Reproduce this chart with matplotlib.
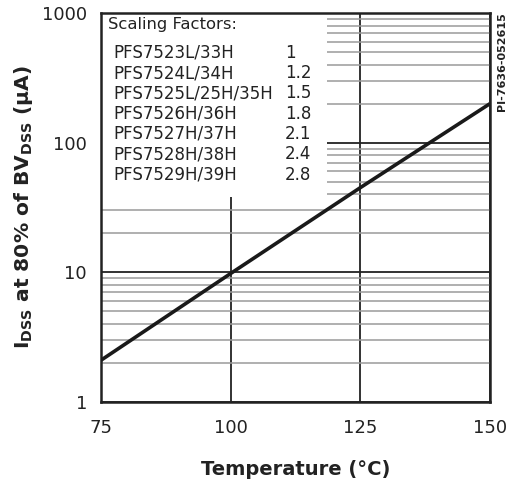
import matplotlib.pyplot as plt
import matplotlib.ticker as mticker
from matplotlib.patches import Rectangle
import numpy as np

# data
temp_c = [75, 100, 125, 150]
idss_ua = [2.1, 9.8, 45, 200]

parts = ["PFS7523L/33H", "PFS7524L/34H", "PFS7525L/25H/35H", "PFS7526H/36H",
         "PFS7527H/37H", "PFS7528H/38H", "PFS7529H/39H"]
factors = ["1", "1.2", "1.5", "1.8", "2.1", "2.4", "2.8"]

x_ticks = [75, 100, 125, 150]
y_ticks = [1, 10, 100, 1000]

plt.rcParams['font.family'] = 'DejaVu Sans'
plt.rcParams['mathtext.fontset'] = 'dejavusans'

fig = plt.figure(figsize=(5.08, 4.86), dpi=100)
ax = fig.add_axes([0.1988, 0.1728, 0.7657, 0.8004])

ax.set_yscale('log')
ax.set_xlim(75, 150)
ax.set_ylim(1, 1000)

# grid
ax.set_axisbelow(True)
ax.yaxis.set_minor_locator(mticker.LogLocator(base=10, subs=np.arange(2, 10)))
ax.yaxis.set_minor_formatter(mticker.NullFormatter())
ax.grid(which='minor', axis='y', color='#9a9a9a', lw=1.1)
ax.grid(which='major', axis='y', color='#222222', lw=1.3)
ax.set_xticks(x_ticks)
ax.grid(which='major', axis='x', color='#222222', lw=1.3)
ax.set_yticks(y_ticks)
ax.set_xticklabels([str(t) for t in x_ticks])
ax.set_yticklabels([str(t) for t in y_ticks])
ax.tick_params(which='both', length=0, labelsize=13, colors='#222222')
ax.tick_params(axis='x', pad=12)
ax.tick_params(axis='y', pad=10)

for s in ax.spines.values():
    s.set_linewidth(1.8)
    s.set_color('#222222')

# curve
ax.plot(temp_c, idss_ua, color='#1a1a1a', lw=2.6, zorder=3, solid_capstyle='butt')

# scaling-factor box covering the grid
ax.add_patch(Rectangle((0, 0.527), 0.582, 0.473, transform=ax.transAxes,
                       facecolor='white', edgecolor='none', zorder=1))
ax.text(0.018, 0.970, "Scaling Factors:", transform=ax.transAxes, fontsize=11.8,
        va='center', ha='left', color='#222222', zorder=4)
row_y = 0.898
for p, f in zip(parts, factors):
    ax.text(0.031, row_y, p, transform=ax.transAxes, fontsize=12,
            va='center', ha='left', color='#222222', zorder=4)
    ax.text(0.473, row_y, f, transform=ax.transAxes, fontsize=12,
            va='center', ha='left', color='#222222', zorder=4)
    row_y -= 0.0522

ax.set_xlabel("Temperature (°C)", fontsize=14, fontweight='bold',
              color='#222222', labelpad=17)
ax.set_ylabel(r"I$_{\mathbf{DSS}}$ at 80% of BV$_{\mathbf{DSS}}$ (μA)",
              fontsize=14.6, fontweight='bold', color='#222222', labelpad=5)

fig.text(0.999, 0.975, "PI-7636-052615", rotation=90, fontsize=8,
         fontweight='bold', ha='right', va='top', color='#222222')

fig.savefig('out.png', dpi=100)
